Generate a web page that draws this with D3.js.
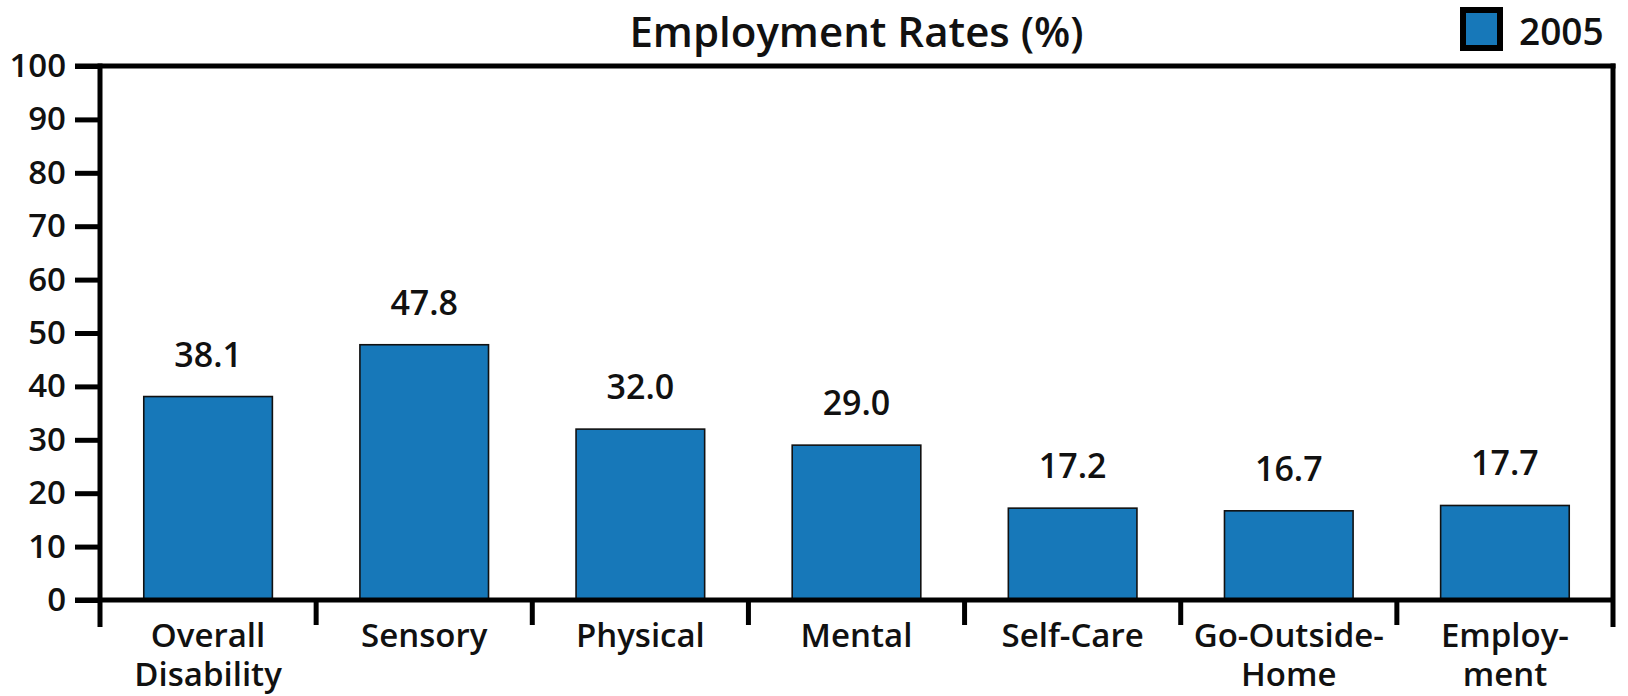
<!DOCTYPE html>
<html>
<head>
<meta charset="utf-8">
<script src="https://cdn.jsdelivr.net/npm/d3@7"></script>
<style>
  html, body { margin: 0; padding: 0; background: #fff; }
  svg { display: block; }
  text { font-family: "Open Sans", "Noto Sans", sans-serif; fill: #111; }
</style>
</head>
<body>
<svg id="chart" width="1628" height="696"></svg>
<script>
// ---- data ----
const categories = [["Overall", "Disability"], ["Sensory"], ["Physical"], ["Mental"], ["Self-Care"], ["Go-Outside-", "Home"], ["Employ-", "ment"]];
const values2005 = [38.1, 47.8, 32.0, 29.0, 17.2, 16.7, 17.7];
const yTicks = [0, 10, 20, 30, 40, 50, 60, 70, 80, 90, 100];
const seriesName = "2005";
const titleText = "Employment Rates (%)";

// ---- layout ----
const M = { left: 100, right: 1613, top: 66, bottom: 600 };
const barColor = "#1778b9";
const lw = 5;

const svg = d3.select("#chart");
const keys = categories.map((c, i) => "c" + i);

const xb = d3.scaleBand().domain(keys).range([M.left, M.right]).padding(0);
const barW = xb.bandwidth() * 0.595;
const y = d3.scaleLinear().domain([0, 100]).range([M.bottom, M.top]);

// y axis ticks + labels
const yAxis = d3.axisLeft(y).tickValues(yTicks).tickSize(25).tickSizeOuter(0).tickPadding(10);
const gy = svg.append("g").attr("transform", `translate(${M.left},0)`).call(yAxis);
gy.select(".domain").remove();
gy.selectAll(".tick line").attr("stroke", "#000").attr("stroke-width", lw);
gy.selectAll(".tick text").attr("font-size", 33).attr("font-weight", 600)
  .attr("font-family", '"Open Sans", sans-serif').attr("fill", "#111").attr("x", -34);

// bars
svg.append("g").selectAll("rect").data(values2005).join("rect")
  .attr("x", (d, i) => xb(keys[i]) + (xb.bandwidth() - barW) / 2)
  .attr("y", d => y(d))
  .attr("width", barW)
  .attr("height", d => y(0) - y(d))
  .attr("fill", barColor)
  .attr("stroke", "#111")
  .attr("stroke-width", 1.6);

// value labels
svg.append("g").selectAll("text").data(values2005).join("text")
  .attr("x", (d, i) => xb(keys[i]) + xb.bandwidth() / 2)
  .attr("y", d => y(d) - 30)
  .attr("text-anchor", "middle")
  .attr("font-size", 34).attr("font-weight", 600)
  .text(d => d.toFixed(1));

// frame lines
const frame = svg.append("g").attr("stroke", "#000").attr("stroke-width", lw).attr("fill", "none");
frame.append("line").attr("x1", M.left).attr("x2", M.left).attr("y1", y(100) - lw / 2).attr("y2", M.bottom + 27);
frame.append("line").attr("x1", M.left - 25).attr("x2", M.right + lw / 2).attr("y1", y(100)).attr("y2", y(100));
frame.append("line").attr("x1", M.right).attr("x2", M.right).attr("y1", y(100) - lw / 2).attr("y2", M.bottom + 27);
frame.append("line").attr("x1", M.left - 25).attr("x2", M.right).attr("y1", y(0)).attr("y2", y(0));
// category separators
frame.selectAll("line.sep").data(keys.slice(1)).join("line").attr("class", "sep")
  .attr("x1", k => xb(k)).attr("x2", k => xb(k))
  .attr("y1", M.bottom).attr("y2", M.bottom + 25);

// category labels
const cl = svg.append("g").selectAll("text").data(categories).join("text")
  .attr("text-anchor", "middle")
  .attr("font-size", 33).attr("font-weight", 600)
  .attr("transform", (d, i) => `translate(${xb(keys[i]) + xb.bandwidth() / 2},647)`);
cl.selectAll("tspan").data(d => d).join("tspan")
  .attr("x", 0).attr("y", (d, j) => j * 39).text(d => d);

// title
svg.append("text").attr("x", (M.left + M.right) / 2).attr("y", 47)
  .attr("text-anchor", "middle").attr("font-size", 42).attr("font-weight", 600)
  .text(titleText);

// legend
svg.append("rect").attr("x", 1463).attr("y", 10).attr("width", 37).attr("height", 38)
  .attr("fill", barColor).attr("stroke", "#000").attr("stroke-width", 6);
svg.append("text").attr("x", 1519).attr("y", 45).attr("font-size", 37).attr("font-weight", 600)
  .text(seriesName);
</script>
</body>
</html>
